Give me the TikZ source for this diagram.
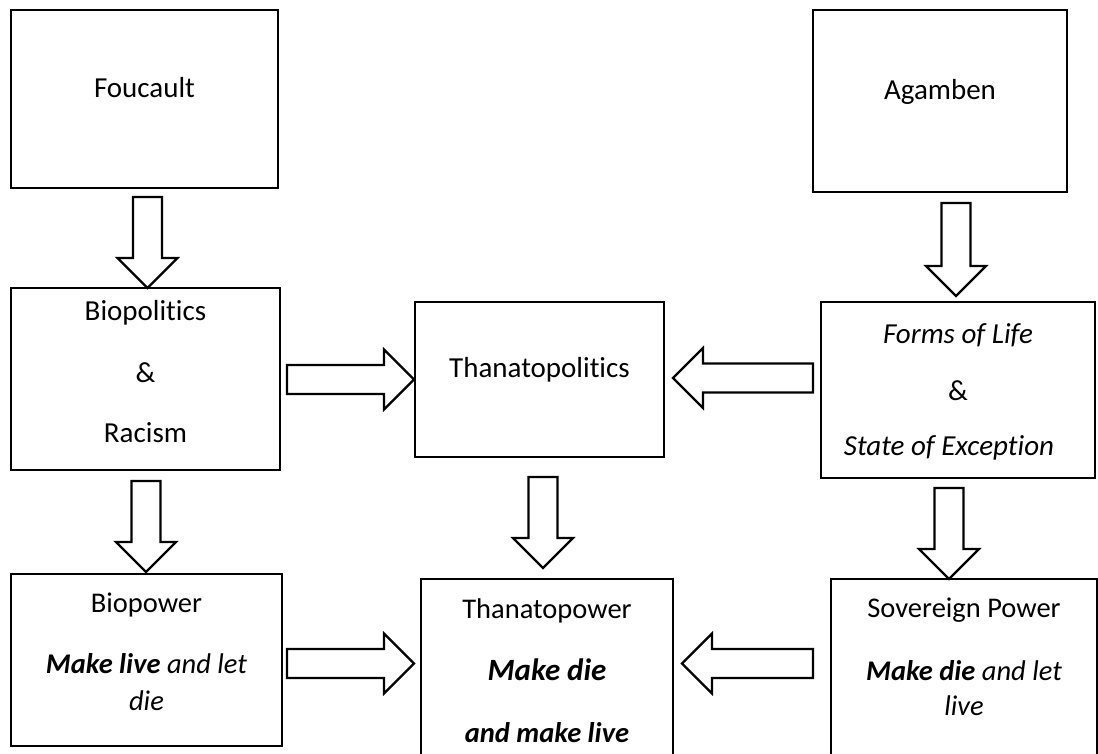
\documentclass[tikz,border=0pt]{standalone}
\usepackage{fontspec}
\setmainfont{Carlito}[Ligatures={NoCommon,NoRare}]
\usetikzlibrary{calc}

\tikzset{
  box/.style={draw, line width=2.4pt, inner sep=0pt, outer sep=0pt},
  blockarr/.style={draw, line width=2.2pt, line join=miter, fill=white},
  txt/.style={anchor=base, inner sep=0pt, font=\fontsize{29}{35}\selectfont},
  txtb/.style={anchor=base, inner sep=0pt, font=\fontsize{28.5}{34}\selectfont},
  txtbig/.style={anchor=base, inner sep=0pt, font=\fontsize{31}{37}\selectfont},
}

% hollow block arrow from tail #1 to tip #2: shaft half-width 14.5, head half-width 30, head length 30
\newcommand\blockarrow[2]{%
  \draw[blockarr]
    ($(#1)!14.5pt!90:(#2)$)
    -- ($($(#2)!30pt!(#1)$)!14.5pt!90:(#2)$)
    -- ($($(#2)!30pt!(#1)$)!30pt!90:(#2)$)
    -- (#2)
    -- ($($(#2)!30pt!(#1)$)!30pt!-90:(#2)$)
    -- ($($(#2)!30pt!(#1)$)!14.5pt!-90:(#2)$)
    -- ($(#1)!14.5pt!-90:(#2)$)
    -- cycle;}

\begin{document}
\begin{tikzpicture}[x=1pt, y=-1pt]
\useasboundingbox (0,0) rectangle (1098,753);
\clip (0,0) rectangle (1098,753);

% boxes
\node[box, minimum width=267pt, minimum height=178pt] (fou) at (144.5,99) {};
\node[box, minimum width=254pt, minimum height=182pt] (aga) at (940,101) {};
\node[box, minimum width=269pt, minimum height=182pt] (bio) at (145.5,379) {};
\node[box, minimum width=249pt, minimum height=155pt] (thp) at (539.5,379.5) {};
\node[box, minimum width=274pt, minimum height=176pt] (frm) at (958,390) {};
\node[box, minimum width=271pt, minimum height=172pt] (bpw) at (146.5,660) {};
\node[box, minimum width=252pt, minimum height=181pt] (tpw) at (547,669.5) {};
\node[box, minimum width=266pt, minimum height=181pt] (sov) at (964,669.5) {};

% texts
\node[txt] (fou-t) at (144.5,97) {Foucault};
\node[txt] (aga-t) at (940,99) {Agamben};

\node[txt] (bio-t1) at (145.5,320) {Biopolitics};
\node[txt] (bio-t2) at (145.5,382) {\&};
\node[txt] (bio-t3) at (145.5,442) {Racism};

\node[txt] (thp-t) at (539.5,377) {Thanatopolitics};

\node[txt] (frm-t1) at (958,343) {\textit{Forms of Life}};
\node[txt] (frm-t2) at (958,400) {\&};
\node[txt] (frm-t3) at (949,455) {\textit{State of Exception}};

\node[txtb] (bpw-t1) at (146.5,612) {Biopower};
\node[txtb] (bpw-t2) at (146.5,673) {\textbf{\textit{Make live}} \textit{and let}};
\node[txtb] (bpw-t3) at (146.5,710) {\textit{die}};

\node[txtb] (tpw-t1) at (547,618) {Thanatopower};
\node[txtbig] (tpw-t2) at (547,680) {\textbf{\textit{Make die}}};
\node[txtb] (tpw-t3) at (547,742) {\textbf{\textit{and make live}}};

\node[txtb] (sov-t1) at (964,617) {Sovereign Power};
\node[txtb] (sov-t2) at (964,680) {\textbf{\textit{Make die}} \textit{and let}};
\node[txtb] (sov-t3) at (964,715) {\textit{live}};

% arrow ends
\coordinate (a1s) at ($(fou.south)+(3,9)$);
\coordinate (a1e) at (a1s |- bio.north);
\coordinate (a2s) at ($(aga.south)+(16,11)$);
\coordinate (a2e) at ($(a2s |- frm.north)+(0,-6)$);
\coordinate (a3s) at ($(bio.east)+(7,0.5)$);
\coordinate (a3e) at ($(a3s -| thp.west)+(-1,0)$);
\coordinate (a4s) at ($(frm.west)+(-8,-12)$);
\coordinate (a4e) at ($(a4s -| thp.east)+(9,0)$);
\coordinate (a5s) at ($(bio.south)+(0.5,11)$);
\coordinate (a5e) at ($(a5s |- bpw.north)+(0,-2)$);
\coordinate (a6s) at ($(thp.south)+(3.5,20)$);
\coordinate (a6e) at ($(a6s |- tpw.north)+(0,-11)$);
\coordinate (a7s) at ($(frm.south)+(-9,10)$);
\coordinate (a7e) at (a7s |- sov.north);
\coordinate (a8s) at ($(bpw.east)+(5,3.5)$);
\coordinate (a8e) at ($(a8s -| tpw.west)+(-7,0)$);
\coordinate (a9s) at ($(sov.west)+(-18,-6)$);
\coordinate (a9e) at ($(a9s -| tpw.east)+(9,0)$);

% connectors
\blockarrow{a1s}{a1e}
\blockarrow{a2s}{a2e}
\blockarrow{a3s}{a3e}
\blockarrow{a4s}{a4e}
\blockarrow{a5s}{a5e}
\blockarrow{a6s}{a6e}
\blockarrow{a7s}{a7e}
\blockarrow{a8s}{a8e}
\blockarrow{a9s}{a9e}
\end{tikzpicture}
\end{document}
